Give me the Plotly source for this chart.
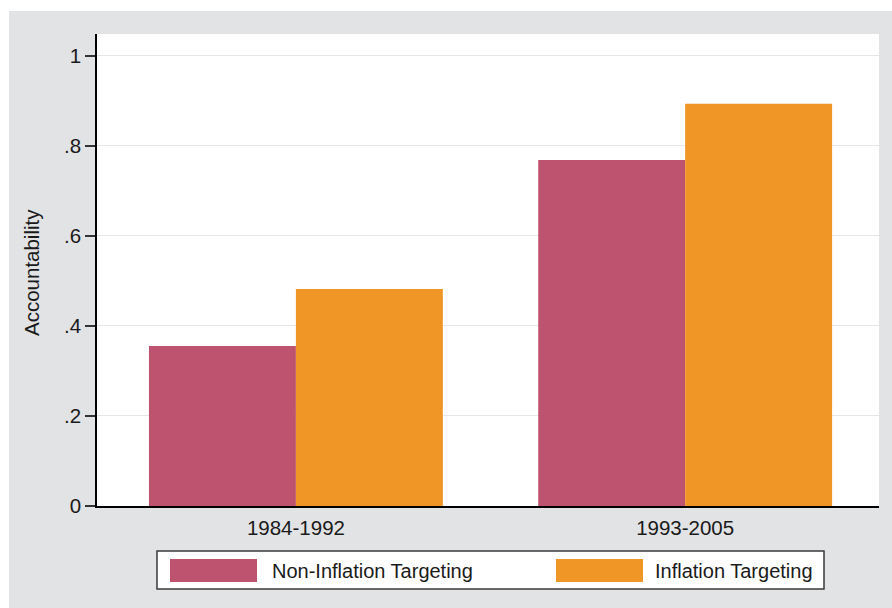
import plotly.graph_objects as go

periods = ["1984-1992", "1993-2005"]
series_names = ["Non-Inflation Targeting", "Inflation Targeting"]
non_it = [0.355, 0.768]
it = [0.482, 0.893]
colors = ["#bd536e", "#f09627"]
ytick_vals = [0, 0.2, 0.4, 0.6, 0.8, 1]
ytick_text = ["0", ".2", ".4", ".6", ".8", "1"]

W, H = 892, 608
L, R, T, B = 97, 879, 34, 506  # plot area pixel bounds
FONT = "Liberation Sans, Arial, Helvetica, sans-serif"
FS = 20.5


def px(x):
    return (x - L) / (R - L)


def py(y):
    return (B - y) / (B - T)


fig = go.Figure()
for name, vals, col in zip(series_names, [non_it, it], colors):
    fig.add_trace(go.Bar(x=periods, y=vals, name=name, marker=dict(color=col, line=dict(width=0)),
                         showlegend=False))

shapes = [
    # white page strips outside the grey graph region
    dict(type="rect", xref="paper", yref="paper", x0=px(0), x1=px(9), y0=py(H), y1=py(0),
         fillcolor="white", line=dict(width=0)),
    dict(type="rect", xref="paper", yref="paper", x0=px(0), x1=px(W), y0=py(11), y1=py(0),
         fillcolor="white", line=dict(width=0)),
    # legend box
    dict(type="rect", xref="paper", yref="paper", x0=px(157), x1=px(824), y0=py(589), y1=py(551),
         fillcolor="white", line=dict(color="#3a3a3a", width=1.5)),
]
annotations = []
legend_pos = [(170, 257, 270), (556, 643, 653)]
for (sx0, sx1, tx), name, col in zip(legend_pos, series_names, colors):
    shapes.append(dict(type="rect", xref="paper", yref="paper", x0=px(sx0), x1=px(sx1),
                       y0=py(582), y1=py(559), fillcolor=col, line=dict(width=0)))
    annotations.append(dict(xref="paper", yref="paper", x=px(tx), y=py(571), text=name,
                            showarrow=False, xanchor="left", yanchor="middle",
                            font=dict(family=FONT, size=20, color="#1a1a1a")))
annotations.append(dict(xref="paper", yref="paper", x=px(31), y=py(273), text="Accountability",
                        textangle=-90, showarrow=False, xanchor="center", yanchor="middle",
                        font=dict(family=FONT, size=FS, color="#1a1a1a")))

fig.update_layout(
    width=W, height=H,
    margin=dict(l=L, r=W - R, t=T, b=H - B, pad=0),
    paper_bgcolor="#e2e3e5",
    plot_bgcolor="white",
    barmode="group",
    bargap=0.245,
    bargroupgap=0,
    font=dict(family=FONT, size=FS, color="#1a1a1a"),
    shapes=shapes,
    annotations=annotations,
    showlegend=False,
)
fig.update_xaxes(range=[-0.511, 1.498], showline=True, linecolor="black", linewidth=1.5,
                 ticks="", showgrid=False, zeroline=False, tickfont=dict(size=FS),
                 ticklabelstandoff=3, fixedrange=True)
fig.update_yaxes(range=[0, 1.048], tickvals=ytick_vals, ticktext=ytick_text,
                 showline=True, linecolor="black", linewidth=1.5,
                 ticks="outside", ticklen=10, tickwidth=1.5, tickcolor="#333333",
                 showgrid=True, gridcolor="#e6e6e6", gridwidth=1.2, zeroline=False,
                 tickfont=dict(size=FS), fixedrange=True)

fig.write_html("out.html", config={"displayModeBar": False},
               post_script="document.body.style.margin='0';")
